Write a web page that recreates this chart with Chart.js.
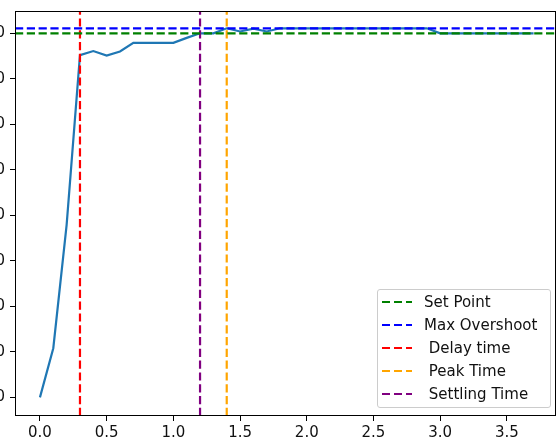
<!DOCTYPE html>
<html>
<head>
<meta charset="utf-8">
<script src="https://cdn.jsdelivr.net/npm/chart.js@4/dist/chart.umd.min.js"></script>
<style>
  html, body { margin: 0; padding: 0; background: #fff; overflow: hidden; }
  #wrap { position: relative; width: 558px; height: 441px; overflow: hidden; }
  #chart { position: absolute; left: -60px; top: 0; }
  #legend {
    position: absolute; left: 377px; top: 289px; width: 172px; height: 117px;
    border: 1px solid #cccccc; border-radius: 3px; background: rgba(255,255,255,0.8);
    font-family: "DejaVu Sans", sans-serif; font-size: 15px; color: #111;
  }
  .row { position: absolute; left: 0; height: 20px; display: flex; align-items: center; }
  .swatch { width: 30px; height: 2px; margin-left: 4px; margin-right: 12px; }
  .txt { white-space: pre; }
</style>
</head>
<body>
<div id="wrap">
  <canvas id="chart" width="618" height="441"></canvas>
  <div id="legend"></div>
</div>
<script>
// 时间点 (s)
const times = [0.0, 0.1, 0.2, 0.3, 0.4, 0.5, 0.6, 0.7, 0.8, 0.9,
               1.0, 1.1, 1.2, 1.3, 1.4, 1.5, 1.6, 1.7, 1.8, 1.9,
               2.0, 2.1, 2.2, 2.3, 2.4, 2.5, 2.6, 2.7, 2.8, 2.9,
               3.0, 3.1, 3.2, 3.3, 3.4, 3.5, 3.6, 3.7];

// 响应值
const response = [20.0, 30.8, 57.9, 95.2, 96.1, 95.1, 96.0, 97.9, 97.9, 97.9,
                  97.9, 99.0, 100.0, 100.0, 101.1, 100.4, 101.0, 100.4, 101.1, 101.1,
                  101.1, 101.1, 101.1, 101.1, 101.1, 101.1, 101.1, 101.1, 101.1, 101.1,
                  100.0, 100.0, 100.0, 100.0, 100.0, 100.0, 100.0, 100.0];

// 参考线
const hLineLabels = ['Set Point', 'Max Overshoot'];
const hLineValues = [100.0, 101.1];
const hLineColors = ['green', 'blue'];

const vLineLabels = [' Delay time', ' Peak Time', ' Settling Time'];
const vLineValues = [0.3, 1.4, 1.2];
const vLineColors = ['red', 'orange', 'purple'];

// 坐标范围
const xRange = [-0.187, 3.868];
const yRange = [15.9, 104.9];

const dash = [8.2, 3.6];
const font = { family: 'DejaVu Sans', size: 15 };

const datasets = [];

// 水平参考线
hLineValues.forEach((v, i) => {
  datasets.push({
    label: hLineLabels[i],
    data: [{ x: xRange[0], y: v }, { x: xRange[1], y: v }],
    borderColor: hLineColors[i],
    borderWidth: 2.2,
    borderDash: dash,
    pointRadius: 0,
    order: 1
  });
});

// 垂直参考线
vLineValues.forEach((v, i) => {
  datasets.push({
    label: vLineLabels[i],
    data: [{ x: v, y: yRange[0] }, { x: v, y: yRange[1] }],
    borderColor: vLineColors[i],
    borderWidth: 2.2,
    borderDash: dash,
    pointRadius: 0,
    order: 1
  });
});

// 响应曲线
datasets.push({
  label: 'response',
  data: times.map((t, i) => ({ x: t, y: response[i] })),
  borderColor: '#1f77b4',
  borderWidth: 2.2,
  pointRadius: 0,
  tension: 0,
  order: 2
});

// 外框
const frame = {
  id: 'frame',
  afterDraw(chart) {
    const { ctx, chartArea: a } = chart;
    ctx.save();
    ctx.strokeStyle = '#000';
    ctx.lineWidth = 1;
    ctx.strokeRect(Math.round(a.left) + 0.5, Math.round(a.top) + 0.5,
                   Math.round(a.width) - 1, Math.round(a.height) - 1);
    ctx.restore();
  }
};

new Chart(document.getElementById('chart').getContext('2d'), {
  type: 'line',
  data: { datasets: datasets },
  options: {
    responsive: false,
    animation: false,
    devicePixelRatio: 1,
    layout: { padding: { top: 11, right: 2, bottom: 0, left: 0 } },
    plugins: {
      legend: { display: false },
      tooltip: { enabled: false }
    },
    scales: {
      x: {
        type: 'linear',
        min: xRange[0],
        max: xRange[1],
        afterFit: scale => {
          scale.height = 25;
          scale.paddingLeft = 0;
          scale.paddingRight = 0;
        },
        grid: { drawOnChartArea: false, color: '#000', tickLength: 5 },
        border: { display: false },
        ticks: {
          stepSize: 0.5,
          includeBounds: false,
          maxRotation: 0,
          padding: 3,
          color: '#111',
          font: font,
          callback: v => v.toFixed(1)
        }
      },
      y: {
        min: yRange[0],
        max: yRange[1],
        afterFit: scale => {
          scale.width = 75;
          scale.paddingTop = 0;
          scale.paddingBottom = 0;
        },
        grid: { drawOnChartArea: false, color: '#000', tickLength: 5 },
        border: { display: false },
        ticks: {
          stepSize: 10,
          includeBounds: false,
          padding: 5,
          color: '#111',
          font: font,
          callback: v => String(v)
        }
      }
    }
  },
  plugins: [frame]
});

// 图例
const legendEl = document.getElementById('legend');
const legendLabels = hLineLabels.concat(vLineLabels);
const legendColors = hLineColors.concat(vLineColors);
legendLabels.forEach((label, i) => {
  const row = document.createElement('div');
  row.className = 'row';
  row.style.top = (2 + i * 23) + 'px';
  const sw = document.createElement('div');
  sw.className = 'swatch';
  sw.style.background = `repeating-linear-gradient(to right, ${legendColors[i]} 0 8.2px, transparent 8.2px 11.8px)`;
  const txt = document.createElement('span');
  txt.className = 'txt';
  txt.textContent = label;
  row.appendChild(sw);
  row.appendChild(txt);
  legendEl.appendChild(row);
});
</script>
</body>
</html>
